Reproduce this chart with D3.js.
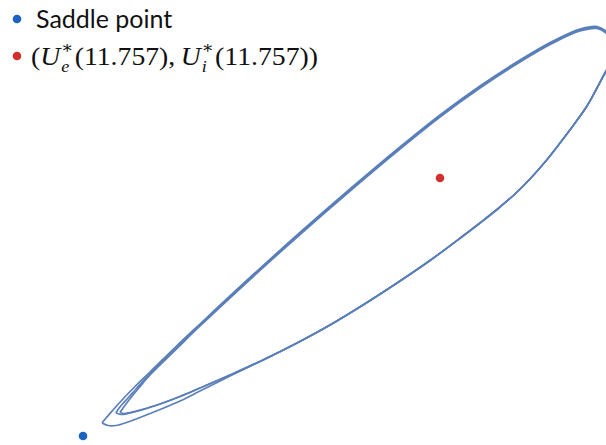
<!DOCTYPE html>
<html>
<head>
<meta charset="utf-8">
<script src="https://cdn.jsdelivr.net/npm/d3@7"></script>
<style>
  html, body { margin: 0; padding: 0; background: #fff; }
  svg { display: block; }
</style>
</head>
<body>
<svg id="chart" width="606" height="445"></svg>
<script>
// Phase-plane trajectory (U_e, U_i) winding onto the limit cycle.
// Each array is one turn of the orbit: [U_e, U_i].
const loopOuter = [
  [0.102,0.022],[0.106,0.027],[0.113,0.035],[0.122,0.045],[0.135,0.0585],[0.150,0.073],
  [0.175,0.0975],[0.200,0.121],[0.250,0.1675],[0.300,0.2125],[0.350,0.256],[0.400,0.298],
  [0.440,0.330],[0.480,0.359],[0.520,0.385],[0.553,0.404],[0.580,0.416],[0.597,0.4185],
  [0.606,0.414],[0.612,0.407],[0.616,0.398],[0.615,0.388],[0.611,0.380],[0.606,0.373],
  [0.597,0.357],[0.587,0.339],[0.574,0.3205],[0.560,0.302],[0.545,0.283],[0.530,0.266],
  [0.515,0.251],[0.497,0.2355],[0.480,0.222],[0.463,0.209],[0.430,0.1845],[0.397,0.162],
  [0.363,0.140],[0.330,0.120],[0.297,0.102],[0.263,0.085],[0.230,0.069],[0.200,0.054],
  [0.180,0.044],[0.160,0.0355],[0.140,0.0275],[0.128,0.023],[0.116,0.0195],[0.108,0.0195],
  [0.102,0.022]
];

const loopMiddle = [
  [0.116,0.032],[0.118,0.0355],[0.122,0.0405],[0.128,0.047],[0.136,0.056],[0.150,0.0715],
  [0.175,0.096],[0.200,0.120],[0.250,0.1665],[0.300,0.2115],[0.350,0.255],[0.400,0.297],
  [0.440,0.329],[0.480,0.358],[0.520,0.384],[0.553,0.403],[0.580,0.415],[0.597,0.4175],
  [0.606,0.413],[0.612,0.406],[0.615,0.397],[0.614,0.388],[0.611,0.381],[0.606,0.374],
  [0.597,0.357],[0.587,0.339],[0.574,0.3205],[0.560,0.302],[0.545,0.283],[0.530,0.266],
  [0.515,0.251],[0.497,0.2355],[0.480,0.222],[0.463,0.209],[0.430,0.1845],[0.397,0.162],
  [0.363,0.140],[0.330,0.120],[0.297,0.102],[0.263,0.085],[0.230,0.070],[0.200,0.057],
  [0.180,0.0485],[0.160,0.041],[0.140,0.0345],[0.128,0.0315],[0.121,0.0305],[0.116,0.032]
];

const loopInner = [
  [0.120,0.0325],[0.122,0.0355],[0.126,0.041],[0.131,0.0475],[0.138,0.056],[0.150,0.070],
  [0.175,0.0945],[0.200,0.119],[0.250,0.1655],[0.300,0.2105],[0.350,0.254],[0.400,0.296],
  [0.440,0.328],[0.480,0.357],[0.520,0.383],[0.553,0.402],[0.580,0.414],[0.597,0.4165],
  [0.606,0.412],[0.611,0.405],[0.614,0.397],[0.613,0.388],[0.610,0.381],[0.606,0.374],
  [0.597,0.357],[0.587,0.339],[0.574,0.3205],[0.560,0.302],[0.545,0.283],[0.530,0.266],
  [0.515,0.251],[0.497,0.2355],[0.480,0.222],[0.463,0.209],[0.430,0.1845],[0.397,0.162],
  [0.363,0.140],[0.330,0.120],[0.297,0.102],[0.263,0.085],[0.230,0.070],[0.200,0.057],
  [0.180,0.0485],[0.160,0.041],[0.140,0.035],[0.130,0.0325],[0.124,0.0315],[0.120,0.0325]
];

// Fixed points
const saddlePoint = [0.083, 0.009];
const equilibrium = [0.440, 0.267];

const legendLabels = ["Saddle point"];
const legendParam = "11.757";

const colors = { orbit: "#5a7fb9", saddle: "#1a63bf", equilibrium: "#d32f2f" };

const svg = d3.select("#chart");
const width = 606, height = 445;

const x = d3.scaleLinear().domain([0, 0.606]).range([0, width]);
const y = d3.scaleLinear().domain([0, 0.445]).range([height, 0]);

const line = d3.line()
  .x(d => x(d[0]))
  .y(d => y(d[1]))
  .curve(d3.curveCatmullRom.alpha(0.5));

svg.append("g")
  .selectAll("path")
  .data([loopOuter, loopMiddle, loopInner])
  .join("path")
  .attr("d", line)
  .attr("fill", "none")
  .attr("stroke", colors.orbit)
  .attr("stroke-width", 1.7)
  .attr("stroke-linejoin", "round");

svg.append("circle")
  .attr("cx", x(saddlePoint[0])).attr("cy", y(saddlePoint[1]))
  .attr("r", 4.3).attr("fill", colors.saddle);

svg.append("circle")
  .attr("cx", x(equilibrium[0])).attr("cy", y(equilibrium[1]))
  .attr("r", 4.3).attr("fill", colors.equilibrium);

// Legend
const legend = svg.append("g");
legend.append("circle").attr("cx", 17).attr("cy", 19).attr("r", 4.3).attr("fill", colors.saddle);
legend.append("text")
  .attr("x", 36).attr("y", 28)
  .attr("font-family", "Lato, 'Open Sans', sans-serif")
  .attr("font-size", 25)
  .attr("fill", "#111")
  .text(legendLabels[0]);

legend.append("circle").attr("cx", 17).attr("cy", 56).attr("r", 4.3).attr("fill", colors.equilibrium);

// Math label (U_e^*(p), U_i^*(p)) as a single text with stacked scripts
const serif = "'Liberation Serif', 'DejaVu Serif', serif";
const fs = 26, fsScript = 17;
function measure(str, size, italic) {
  const t = svg.append("text")
    .attr("font-family", serif).attr("font-size", size)
    .attr("font-style", italic ? "italic" : "normal").text(str);
  const w = t.node().getComputedTextLength();
  t.remove();
  return w;
}
const pieces = [];
let cx = 0, curDy = 0;
function push(str, { italic = false, size = fs, shift = 0, at = null } = {}) {
  const xPos = at === null ? cx : at;
  pieces.push({ str, italic, size, x: xPos, dy: shift - curDy });
  curDy = shift;
  const w = measure(str, size, italic);
  if (at === null) cx += w;
  return w;
}
function scripted(base, sub) {
  push(base, { italic: true });
  cx += 1;
  const start = cx;
  const wSup = push("\u2217", { size: fsScript, shift: -12, at: start });
  const wSub = push(sub, { italic: true, size: fsScript, shift: 7, at: start });
  cx = start + Math.max(wSup, wSub) + 1;
}
push("(");
scripted("U", "e");
push("(" + legendParam + "),");
cx += 5;
scripted("U", "i");
push("(" + legendParam + "))");

const target = 287;
const mathText = legend.append("text")
  .attr("transform", `translate(31,65) scale(${target / cx},1)`)
  .attr("font-family", serif)
  .attr("fill", "#111");
mathText.selectAll("tspan")
  .data(pieces)
  .join("tspan")
  .attr("x", d => d.x)
  .attr("dy", d => d.dy)
  .attr("font-size", d => d.size)
  .attr("font-style", d => d.italic ? "italic" : "normal")
  .text(d => d.str);
</script>
</body>
</html>
